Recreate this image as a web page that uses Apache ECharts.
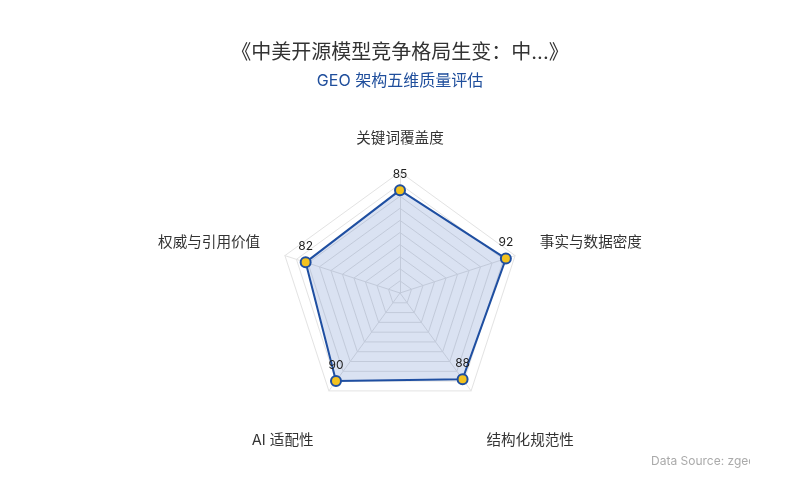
<!DOCTYPE html>
<html>
<head>
<meta charset="utf-8">
<script src="https://cdn.jsdelivr.net/npm/echarts@6/dist/echarts.min.js"></script>
<style>html,body{margin:0;padding:0;background:#fff;}#c{width:800px;height:500px;}</style>
</head>
<body>
<div id="c"></div>
<script>
const titleText = '《中美开源模型竞争格局生变：中...》';
const subtitleText = 'GEO 架构五维质量评估';
const indicatorNames = ['关键词覆盖度', '权威与引用价值', 'AI 适配性', '结构化规范性', '事实与数据密度'];
const indicatorMax = [100, 100, 100, 100, 100];
const scores = [85, 82, 90, 88, 92];
const sourceText = 'Data Source: zgeo.ai';

const FONT = 'Inter, "Noto Sans CJK SC", "Noto Sans", sans-serif';
// label style per indicator position (top / side / bottom)
const nameStyleKey = ['t', 's', 'b', 'b', 's'];
const nameBase = { fontFamily: FONT, fontSize: 14.6, color: '#333' };

const chart = echarts.init(document.getElementById('c'));
chart.setOption({
  backgroundColor: '#fff',
  title: {
    text: titleText,
    subtext: subtitleText,
    left: 'center',
    top: 38,
    itemGap: 10,
    textStyle: { fontFamily: FONT, fontSize: 20, fontWeight: 'normal', color: '#333' },
    subtextStyle: { fontFamily: FONT, fontSize: 16, color: '#1f4e9c' }
  },
  radar: {
    center: [400, 293],
    radius: 121,
    startAngle: 90,
    splitNumber: 10,
    shape: 'polygon',
    nameGap: 26,
    indicator: indicatorNames.map((n, i) => ({ name: n, max: indicatorMax[i], min: 0 })),
    axisName: Object.assign({}, nameBase, {
      formatter: function (name) {
        const k = nameStyleKey[indicatorNames.indexOf(name)] || 't';
        return '{' + k + '|' + name + '}';
      },
      rich: {
        t: Object.assign({}, nameBase),
        s: Object.assign({ padding: [0, 0, 10, 0] }, nameBase),
        b: Object.assign({ padding: [58, 0, 0, 0] }, nameBase)
      }
    }),
    splitLine: { lineStyle: { color: '#e3e3e3', width: 1 } },
    splitArea: { show: false },
    axisLine: { lineStyle: { color: '#e3e3e3' } }
  },
  series: [{
    type: 'radar',
    symbol: 'circle',
    symbolSize: 10,
    data: [{
      value: scores,
      lineStyle: { color: '#1f4fa0', width: 2 },
      areaStyle: { color: 'rgba(35,85,175,0.24)' },
      itemStyle: { color: '#f3c21f', borderColor: '#1f4fa0', borderWidth: 2 },
      label: { show: true, position: 'top', distance: 4, fontFamily: FONT, fontSize: 12, color: '#222' }
    }]
  }],
  graphic: [
    { type: 'text', left: 651, top: 455, z: 10,
      style: { text: sourceText, font: '12px Inter, sans-serif', fill: '#aaa' } },
    { type: 'rect', left: 750, top: 445, z: 20,
      shape: { width: 50, height: 30 }, style: { fill: '#fff' } }
  ]
});
</script>
</body>
</html>
